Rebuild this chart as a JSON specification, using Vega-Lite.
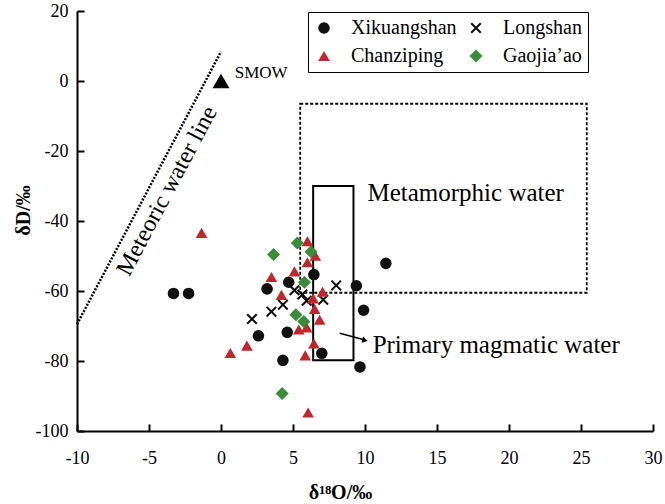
{
  "$schema": "https://vega.github.io/schema/vega-lite/v6.json",
  "width": 576,
  "height": 420,
  "autosize": "none",
  "padding": {"left": 77, "top": 11, "right": 12, "bottom": 73},
  "background": "white",
  "config": {
    "font": "Liberation Serif",
    "view": {"stroke": null},
    "axis": {"grid": false, "domainColor": "black", "domainWidth": 2, "tickColor": "black", "tickWidth": 2, "labelColor": "black", "labelFont": "Liberation Serif", "labelFontSize": 18, "titleFont": "Liberation Serif", "titleColor": "black", "labelFlush": false, "labelOverlap": false}
  },
  "layer": [
    {
      "data": {"values": [{"x1": 5.5, "x2": 25.4, "y1": -6.5, "y2": -60.5}]},
      "mark": {"type": "rect", "fill": "transparent", "stroke": "black", "strokeWidth": 1.8, "strokeDash": [3, 2]},
      "encoding": {
        "x": {"field": "x1", "type": "quantitative", "scale": {"domain": [-10, 30], "nice": false, "zero": false},
          "axis": {"values": [-10, -5, 0, 5, 10, 15, 20, 25, 30], "labelExpr": "toString(datum.value)", "labelFlush": false, "labelFont": "Liberation Serif", "labelFontSize": 18, "tickSize": -7, "labelPadding": 25, "title": "δ¹⁸O/‰", "titleFont": "Liberation Serif", "titleFontSize": 20, "titleFontWeight": "bold", "titleX": 263, "titleY": 61, "titleBaseline": "middle"}},
        "x2": {"field": "x2"},
        "y": {"field": "y1", "type": "quantitative", "scale": {"domain": [-100, 20], "nice": false, "zero": false},
          "axis": {"values": [20, 0, -20, -40, -60, -80, -100], "labelExpr": "toString(datum.value)", "labelFlush": false, "labelFont": "Liberation Serif", "labelFontSize": 18, "tickSize": -7, "labelPadding": 16, "title": "δD/‰", "titleFont": "Liberation Serif", "titleFontSize": 20, "titleFontWeight": "bold", "titleX": -54, "titleY": 199, "titleAngle": -90, "titleAlign": "center", "titleBaseline": "middle"}},
        "y2": {"field": "y2"}
      }
    },
    {
      "data": {"values": [{"x1": 6.4, "x2": 9.2, "y1": -30, "y2": -79.8}]},
      "mark": {"type": "rect", "fill": "transparent", "stroke": "black", "strokeWidth": 2},
      "encoding": {
        "x": {"field": "x1", "type": "quantitative"},
        "x2": {"field": "x2"},
        "y": {"field": "y1", "type": "quantitative"},
        "y2": {"field": "y2"}
      }
    },
    {
      "data": {"values": [{"x": -10, "y": -69.5}, {"x": 0, "y": 8.4}]},
      "mark": {"type": "line", "color": "black", "strokeWidth": 2.5, "strokeDash": [2, 1.5]},
      "encoding": {
        "x": {"field": "x", "type": "quantitative"},
        "y": {"field": "y", "type": "quantitative"}
      }
    },
    {
      "data": {"values": [{"x": 8.24, "y": -72.1}, {"x": 10.0, "y": -74.0}]},
      "mark": {"type": "line", "color": "black", "strokeWidth": 1.5},
      "encoding": {
        "x": {"field": "x", "type": "quantitative"},
        "y": {"field": "y", "type": "quantitative"}
      }
    },
    {
      "data": {"values": [{"x": 10.0, "y": -74.1}]},
      "mark": {"type": "point", "shape": "triangle-right", "angle": 15, "filled": true, "color": "black", "opacity": 1, "size": 40},
      "encoding": {
        "x": {"field": "x", "type": "quantitative"},
        "y": {"field": "y", "type": "quantitative"}
      }
    },
    {
      "data": {"values": [
        {"d18O": -3.3, "dD": -60.7, "group": "Xikuangshan"},
        {"d18O": -2.25, "dD": -60.7, "group": "Xikuangshan"},
        {"d18O": 3.2, "dD": -59.4, "group": "Xikuangshan"},
        {"d18O": 4.7, "dD": -57.5, "group": "Xikuangshan"},
        {"d18O": 6.45, "dD": -55.3, "group": "Xikuangshan"},
        {"d18O": 11.45, "dD": -52.1, "group": "Xikuangshan"},
        {"d18O": 9.4, "dD": -58.5, "group": "Xikuangshan"},
        {"d18O": 9.9, "dD": -65.5, "group": "Xikuangshan"},
        {"d18O": 2.6, "dD": -72.8, "group": "Xikuangshan"},
        {"d18O": 4.6, "dD": -71.8, "group": "Xikuangshan"},
        {"d18O": 7.0, "dD": -77.8, "group": "Xikuangshan"},
        {"d18O": 4.3, "dD": -79.8, "group": "Xikuangshan"},
        {"d18O": 9.65, "dD": -81.7, "group": "Xikuangshan"},
        {"d18O": 2.15, "dD": -68.0, "group": "Longshan"},
        {"d18O": 3.5, "dD": -65.9, "group": "Longshan"},
        {"d18O": 4.3, "dD": -63.9, "group": "Longshan"},
        {"d18O": 5.1, "dD": -59.8, "group": "Longshan"},
        {"d18O": 5.65, "dD": -61.0, "group": "Longshan"},
        {"d18O": 5.95, "dD": -62.8, "group": "Longshan"},
        {"d18O": 7.1, "dD": -62.5, "group": "Longshan"},
        {"d18O": 8.0, "dD": -58.4, "group": "Longshan"},
        {"d18O": -1.35, "dD": -43.4, "group": "Chanziping"},
        {"d18O": 6.0, "dD": -45.8, "group": "Chanziping"},
        {"d18O": 6.55, "dD": -49.9, "group": "Chanziping"},
        {"d18O": 6.0, "dD": -51.8, "group": "Chanziping"},
        {"d18O": 5.1, "dD": -54.4, "group": "Chanziping"},
        {"d18O": 3.5, "dD": -56.0, "group": "Chanziping"},
        {"d18O": 4.2, "dD": -61.1, "group": "Chanziping"},
        {"d18O": 7.05, "dD": -60.2, "group": "Chanziping"},
        {"d18O": 6.4, "dD": -62.1, "group": "Chanziping"},
        {"d18O": 6.5, "dD": -65.1, "group": "Chanziping"},
        {"d18O": 6.85, "dD": -68.2, "group": "Chanziping"},
        {"d18O": 5.4, "dD": -71.0, "group": "Chanziping"},
        {"d18O": 5.95, "dD": -70.4, "group": "Chanziping"},
        {"d18O": 6.45, "dD": -75.0, "group": "Chanziping"},
        {"d18O": 5.85, "dD": -78.4, "group": "Chanziping"},
        {"d18O": 1.8, "dD": -75.6, "group": "Chanziping"},
        {"d18O": 0.65, "dD": -77.7, "group": "Chanziping"},
        {"d18O": 6.05, "dD": -94.7, "group": "Chanziping"},
        {"d18O": 5.3, "dD": -46.3, "group": "Gaojia’ao"},
        {"d18O": 3.65, "dD": -49.6, "group": "Gaojia’ao"},
        {"d18O": 6.25, "dD": -48.8, "group": "Gaojia’ao"},
        {"d18O": 5.8, "dD": -57.5, "group": "Gaojia’ao"},
        {"d18O": 5.2, "dD": -66.8, "group": "Gaojia’ao"},
        {"d18O": 5.75, "dD": -68.7, "group": "Gaojia’ao"},
        {"d18O": 4.25, "dD": -89.3, "group": "Gaojia’ao"}
      ]},
      "mark": {"type": "point", "filled": true, "opacity": 1, "size": 135},
      "encoding": {
        "x": {"field": "d18O", "type": "quantitative"},
        "y": {"field": "dD", "type": "quantitative"},
        "color": {"field": "group", "type": "nominal",
          "scale": {"domain": ["Xikuangshan", "Chanziping", "Longshan", "Gaojia’ao"], "range": ["#111111", "#c0272d", "#111111", "#3a8b3a"]},
          "legend": {"title": null, "orient": "none", "legendX": 231, "legendY": 1, "columns": 2, "labelFont": "Liberation Serif", "labelFontSize": 20, "labelColor": "black", "symbolSize": 135, "symbolStrokeWidth": 0, "strokeColor": "black", "padding": 6, "columnPadding": 9, "rowPadding": 8, "labelOffset": 17, "fillColor": "white"}},
        "shape": {"field": "group", "type": "nominal",
          "scale": {"domain": ["Xikuangshan", "Chanziping", "Longshan", "Gaojia’ao"], "range": ["circle", "triangle-up", "M-0.95,-0.7L-0.7,-0.95L0,-0.25L0.7,-0.95L0.95,-0.7L0.25,0L0.95,0.7L0.7,0.95L0,0.25L-0.7,0.95L-0.95,0.7L-0.25,0Z", "M-1.12,0L0,-1.12L1.12,0L0,1.12Z"]},
          "legend": {"title": null}}
      }
    },
    {
      "data": {"values": [{"x": 0, "y": 0}]},
      "mark": {"type": "point", "shape": "triangle-up", "filled": true, "color": "black", "opacity": 1, "size": 289},
      "encoding": {
        "x": {"field": "x", "type": "quantitative"},
        "y": {"field": "y", "type": "quantitative"}
      }
    },
    {
      "data": {"values": [
        {"x": 0.95, "y": 0.9, "label": "SMOW", "size": 17},
        {"x": 10.17, "y": -34.3, "label": "Metamorphic water", "size": 25},
        {"x": 10.53, "y": -77.6, "label": "Primary magmatic water", "size": 25}
      ]},
      "mark": {"type": "text", "align": "left", "baseline": "alphabetic", "font": "Liberation Serif", "color": "black"},
      "encoding": {
        "x": {"field": "x", "type": "quantitative"},
        "y": {"field": "y", "type": "quantitative"},
        "text": {"field": "label"},
        "size": {"field": "size", "type": "quantitative", "scale": null, "legend": null}
      }
    },
    {
      "data": {"values": [{"x": -3.74, "y": -31.4, "label": "Meteoric water line"}]},
      "mark": {"type": "text", "align": "center", "baseline": "middle", "font": "Liberation Serif", "fontSize": 24, "angle": 298, "color": "black"},
      "encoding": {
        "x": {"field": "x", "type": "quantitative"},
        "y": {"field": "y", "type": "quantitative"},
        "text": {"field": "label"}
      }
    }
  ]
}
